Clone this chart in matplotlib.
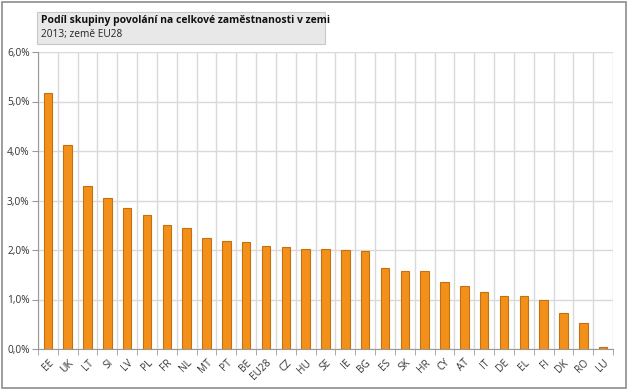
import matplotlib
matplotlib.use('Agg')

import matplotlib.pyplot as plt
import numpy as np
from matplotlib.patches import Rectangle

countries = ["EE", "UK", "LT", "SI", "LV", "PL", "FR", "NL", "MT", "PT", "BE", "EU28",
             "CZ", "HU", "SE", "IE", "BG", "ES", "SK", "HR", "CY", "AT", "IT", "DE",
             "EL", "FI", "DK", "RO", "LU"]
shares = [5.17, 4.12, 3.29, 3.05, 2.85, 2.71, 2.50, 2.44, 2.24, 2.18, 2.16, 2.08,
          2.06, 2.03, 2.03, 2.01, 1.98, 1.64, 1.57, 1.57, 1.35, 1.27, 1.15, 1.08,
          1.08, 1.00, 0.73, 0.52, 0.05]
yticks = [0, 1, 2, 3, 4, 5, 6]
ytick_labels = ["0,0%", "1,0%", "2,0%", "3,0%", "4,0%", "5,0%", "6,0%"]

plt.rcParams['font.family'] = ['Open Sans', 'DejaVu Sans']

fig = plt.figure(figsize=(6.27, 3.89), dpi=100)
ax = fig.add_axes([38/627, 40/389, 575/627, 297/389])

n = len(countries)
x = np.arange(n)
ax.bar(x, shares, width=0.43, color='#F39019', edgecolor='#C46F12', linewidth=0.8, zorder=3)

ax.set_xlim(-0.5, n - 0.5)
ax.set_ylim(0, 6)
ax.set_yticks(yticks)
ax.set_yticklabels(ytick_labels, fontsize=7.3, color='#333333')

# gridlines between categories
for b in np.arange(-0.5, n, 1.0):
    ax.axvline(b, color='#D9D9D9', linewidth=1, zorder=1)
ax.yaxis.grid(True, color='#D9D9D9', linewidth=1, zorder=1)
ax.set_axisbelow(True)

ax.set_xticks(x)
ax.set_xticklabels(countries, rotation=45, fontsize=7.3, color='#333333',
                   ha='right', rotation_mode='anchor')
ax.tick_params(axis='x', length=0, pad=6)
ax.set_xticks(np.arange(-0.5, n, 1.0), minor=True)
ax.tick_params(axis='x', which='minor', length=4, color='#999999')
ax.tick_params(axis='y', length=4, color='#999999', pad=2)

for s in ['top', 'right']:
    ax.spines[s].set_visible(False)
ax.spines['left'].set_color('#999999')
ax.spines['bottom'].set_color('#999999')

# title box
fig.patches.append(Rectangle((37/627, 1 - 44/389), 288/627, 32/389, transform=fig.transFigure,
                             facecolor='#E8E8E8', edgecolor='#C8C8C8', linewidth=0.8))
fig.text(41/627, 1 - 20/389, "Podíl skupiny povolání na celkové zaměstnanosti v zemi",
         fontsize=7.5, fontweight='bold', va='center', color='#111111')
fig.text(41/627, 1 - 35/389, "2013; země EU28", fontsize=7.3, va='center', color='#222222')

# outer frame
fig.patches.append(Rectangle((1.5/627, 1.5/389), 624/627, 386/389, transform=fig.transFigure,
                             facecolor='none', edgecolor='#8C8C8C', linewidth=1.2))

plt.savefig("out.png", dpi=100)
plt.close()
